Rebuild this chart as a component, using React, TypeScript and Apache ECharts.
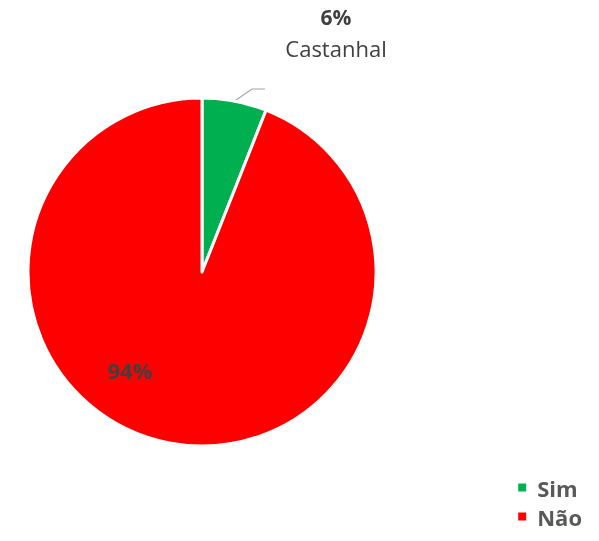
import React, { useEffect, useRef } from "react";
import * as echarts from "echarts";

const categories = ["Sim", "Não"];
const values = [6, 94];
const colors = ["#00B050", "#FF0000"];
const seriesName = "Castanhal";

export default function App() {
  const ref = useRef<HTMLDivElement>(null);
  useEffect(() => {
    const chart = echarts.init(ref.current!, undefined, { renderer: "svg" });
    const font = "'Open Sans', 'Noto Sans', sans-serif";
    chart.setOption({
      animation: false,
      textStyle: { fontFamily: font },
      legend: {
        orient: "vertical",
        right: 12,
        top: 471,
        icon: "rect",
        itemWidth: 10,
        itemHeight: 10,
        itemGap: 6,
        data: categories,
        textStyle: {
          fontSize: 22,
          fontWeight: "bold",
          color: "#595959",
          lineHeight: 23,
          padding: [0, 0, 0, 5],
          fontFamily: font,
        },
      },
      series: [
        {
          type: "pie",
          name: seriesName,
          center: [202, 272],
          radius: 174,
          startAngle: 90,
          clockwise: true,
          itemStyle: { borderColor: "#fff", borderWidth: 3 },
          labelLine: { show: true, length: 12, length2: 14, lineStyle: { color: "#A6A6A6", width: 1.2 } },
          labelLayout: (p: any) => {
            if (p.dataIndex === 0) {
              const pts = p.labelLinePoints;
              const start = pts ? pts[0] : [234, 100];
              return {
                x: 336,
                y: 32,
                align: "center",
                verticalAlign: "middle",
                labelLinePoints: [start, [252, 89], [265, 89]],
              };
            }
            return { x: 130, y: 370, align: "center", verticalAlign: "middle" };
          },
          data: categories.map((c, i) => ({
            name: c,
            value: values[i],
            itemStyle: { color: colors[i] },
            label:
              i === 0
                ? {
                    show: true,
                    position: "outside",
                    formatter: (p: any) => `{p|${Math.round(p.percent)}%}\n{n|${p.seriesName}}`,
                    rich: {
                      p: { fontSize: 21, fontWeight: "bold", color: "#404040", lineHeight: 31, fontFamily: font },
                      n: { fontSize: 22, color: "#404040", lineHeight: 31, fontFamily: font },
                    },
                  }
                : {
                    show: true,
                    position: "inside",
                    formatter: (p: any) => `${Math.round(p.percent)}%`,
                    fontSize: 22,
                    fontWeight: "bold",
                    color: "#404040",
                    fontFamily: font,
                  },
            labelLine: i === 0 ? { show: true } : { show: false },
          })),
        },
      ],
    });
    return () => chart.dispose();
  }, []);
  return <div ref={ref} style={{ position: "fixed", left: 0, top: 0, width: 599, height: 541 }} />;
}
